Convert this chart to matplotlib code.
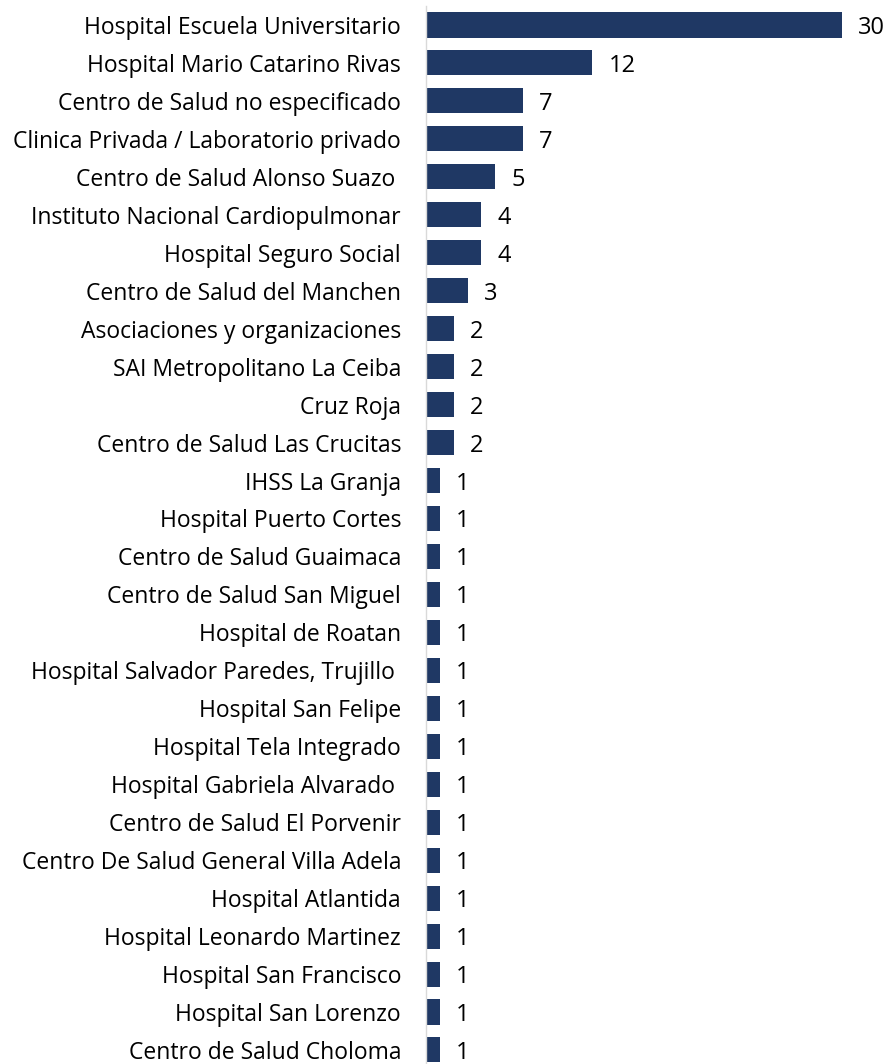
import matplotlib
matplotlib.use("Agg")
import matplotlib.pyplot as plt

categories = [
    "Hospital Escuela Universitario",
    "Hospital Mario Catarino Rivas",
    "Centro de Salud no especificado",
    "Clinica Privada / Laboratorio privado",
    "Centro de Salud Alonso Suazo ",
    "Instituto Nacional Cardiopulmonar",
    "Hospital Seguro Social",
    "Centro de Salud del Manchen",
    "Asociaciones y organizaciones",
    "SAI Metropolitano La Ceiba",
    "Cruz Roja",
    "Centro de Salud Las Crucitas",
    "IHSS La Granja",
    "Hospital Puerto Cortes",
    "Centro de Salud Guaimaca",
    "Centro de Salud San Miguel",
    "Hospital de Roatan",
    "Hospital Salvador Paredes, Trujillo ",
    "Hospital San Felipe",
    "Hospital Tela Integrado",
    "Hospital Gabriela Alvarado ",
    "Centro de Salud El Porvenir",
    "Centro De Salud General Villa Adela",
    "Hospital Atlantida",
    "Hospital Leonardo Martinez",
    "Hospital San Francisco",
    "Hospital San Lorenzo",
    "Centro de Salud Choloma",
]
values = [30, 12, 7, 7, 5, 4, 4, 3, 2, 2, 2, 2, 1, 1, 1, 1, 1, 1, 1, 1, 1, 1, 1, 1, 1, 1, 1, 1]

plt.rcParams['font.family'] = ['Open Sans', 'DejaVu Sans']

fig = plt.figure(figsize=(8.88, 10.64), dpi=100)
W, H = 888, 1064
left_px, right_px = 426, 842
top_px, bot_px = 6, 1064
ax = fig.add_axes([left_px / W, 1 - bot_px / H, (right_px - left_px) / W, (bot_px - top_px) / H])

color = '#1f3864'
ypos = list(range(len(categories)))
ax.barh(ypos, values, height=0.66, color=color, zorder=2)
ax.set_xlim(0, 30)
ax.set_ylim(27.37, -0.5)
ax.set_yticks(ypos)
ax.set_yticklabels(categories, fontsize=16.5, color='#000000')
ax.tick_params(axis='y', length=0, pad=18)
ax.set_xticks([])
for s in ['top', 'right', 'bottom']:
    ax.spines[s].set_visible(False)
ax.spines['left'].set_color('#d9d9d9')
ax.spines['left'].set_linewidth(1.0)

for y, v in zip(ypos, values):
    ax.annotate(str(v), xy=(v, y), xytext=(11.5, 0), textcoords='offset points',
                ha='left', va='center_baseline', fontsize=17, color='#000000',
                annotation_clip=False)

fig.savefig('out.png', dpi=100)
